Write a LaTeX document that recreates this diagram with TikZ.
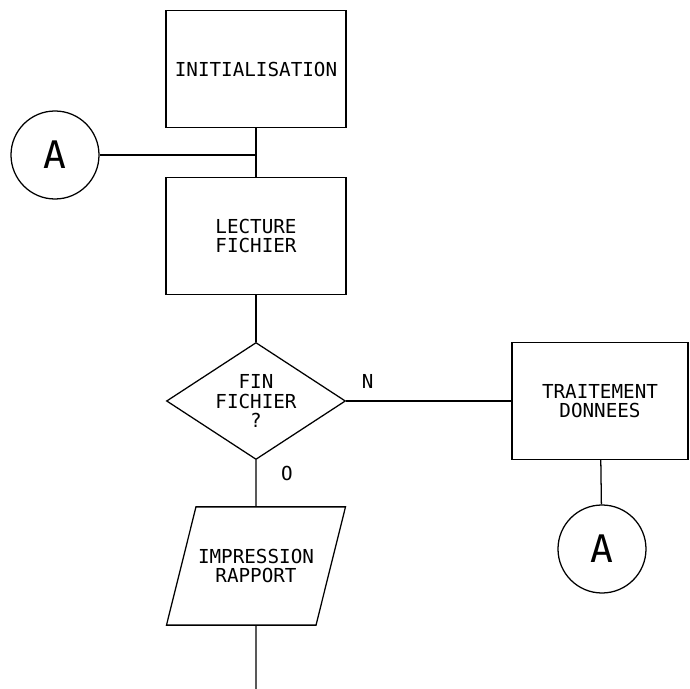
\documentclass[tikz,border=0pt]{standalone}
\usepackage{fontspec}
\setmonofont{DejaVu Sans Mono}
\usetikzlibrary{positioning,shapes.geometric,calc}

\begin{document}
\begin{tikzpicture}[
    line width=0.9pt,
    txt/.style={font=\ttfamily\fontsize{13.7}{14}\selectfont, align=center},
    bloc/.style={draw, txt, minimum width=4.5cm, minimum height=2.925cm, inner sep=0pt},
    test/.style={draw, diamond, txt, shape aspect=1.53, minimum width=4.475cm,
        minimum height=2.925cm, inner sep=-5pt},
    sortie/.style={draw, trapezium, trapezium left angle=76, trapezium right angle=104,
        trapezium stretches body, txt, minimum width=4.475cm, minimum height=2.95cm,
        inner xsep=0pt, inner ysep=1.05cm},
    renvoi/.style={draw, circle, minimum size=2.2cm, inner sep=0pt,
        font=\ttfamily\fontsize{27}{27}\selectfont}
]
\useasboundingbox (0,0) rectangle (17.25,17.225);

\node[bloc] (init) at (6.4,15.5) {INITIALISATION};
\node[renvoi] (a1) at (1.375,13.35) {A};
\node[bloc] (lect) at (6.4,11.325) {LECTURE\\FICHIER};
\node[test] (fin) at (6.4,7.2) {FIN\\FICHIER\\?};
\node[bloc, minimum width=4.4cm] (trait) at (15.0,7.2) {TRAITEMENT\\DONNEES};
\node[renvoi] (a2) at (15.05,3.5) {A};
\node[sortie] (impr) at (6.4,3.075) {IMPRESSION\\RAPPORT};

% jonction du renvoi et sortie du bas
\coordinate (jonc) at (a1 -| init.south);
\coordinate (suite) at (6.4,0);

\draw (init) -- (lect);
\draw (a1) -- (jonc);
\draw (lect) -- (fin);
\draw (fin) -- node[txt, pos=0.13, above=5pt] {N} (trait);
\draw (fin) -- node[txt, pos=0.3, right=14pt] {O} (impr);
\draw (trait) -- (a2);
\draw (impr) -- (suite);
\end{tikzpicture}
\end{document}
